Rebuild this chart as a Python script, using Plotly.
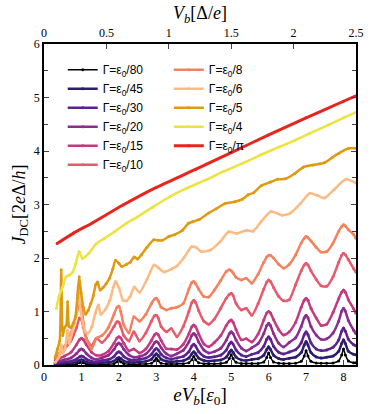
import plotly.graph_objects as go

# shared voltage grid (eV_b in units of eps0) for the narrow-resonance curves
X_RES = [0.3,
         0.55, 0.72, 0.87, 0.95, 1.0, 1.05, 1.13, 1.27, 1.4,
         1.55, 1.72, 1.87, 1.95, 2.0, 2.05, 2.13, 2.27, 2.4,
         2.55, 2.72, 2.87, 2.95, 3.0, 3.05, 3.13, 3.27, 3.4,
         3.55, 3.72, 3.87, 3.95, 4.0, 4.05, 4.13, 4.27, 4.4,
         4.55, 4.72, 4.87, 4.95, 5.0, 5.05, 5.13, 5.27, 5.4,
         5.55, 5.72, 5.87, 5.95, 6.0, 6.05, 6.13, 6.27, 6.4,
         6.55, 6.72, 6.87, 6.95, 7.0, 7.05, 7.13, 7.27, 7.4,
         7.55, 7.72, 7.87, 7.95, 8.0, 8.05, 8.13, 8.27, 8.33]

J80 = [0.01,
       .011, .012, .019, .04, .06, .04, .019, .013, .012,
       .014, .015, .026, .059, .092, .059, .026, .016, .015,
       .017, .019, .035, .08, .125, .08, .035, .02, .02,
       .021, .024, .043, .1, .158, .1, .043, .025, .024,
       .023, .027, .05, .12, .19, .12, .05, .03, .028,
       .026, .03, .058, .14, .222, .14, .058, .032, .03,
       .03, .035, .068, .167, .265, .167, .068, .037, .035,
       .033, .039, .077, .187, .298, .187, .077, .04, .04]

J45 = [0.02,
       .034, .038, .056, .086, .10, .086, .056, .038, .034,
       .045, .051, .077, .12, .14, .12, .077, .052, .046,
       .058, .068, .109, .178, .21, .178, .109, .069, .06,
       .07, .081, .13, .212, .25, .212, .13, .083, .071,
       .081, .093, .148, .238, .28, .238, .148, .095, .083,
       .103, .118, .183, .29, .34, .29, .183, .12, .105,
       .127, .146, .232, .374, .44, .374, .232, .15, .13,
       .147, .167, .256, .402, .47, .402, .256, .2, .19]

J30 = [0.03,
       .06, .072, .11, .154, .17, .154, .11, .073, .062,
       .084, .102, .16, .227, .25, .227, .16, .104, .088,
       .108, .13, .20, .281, .31, .281, .20, .132, .112,
       .132, .16, .25, .354, .39, .354, .25, .163, .138,
       .154, .184, .28, .391, .43, .391, .28, .187, .16,
       .199, .235, .35, .483, .53, .483, .35, .238, .206,
       .243, .284, .415, .567, .62, .567, .415, .30, .27,
       .28, .33, .465, .632, .69, .632, .48, .38, .36]

J20 = [0.05,
       .098, .132, .215, .282, .30, .282, .215, .134, .105,
       .137, .184, .295, .385, .41, .385, .295, .187, .147,
       .158, .206, .322, .414, .44, .414, .322, .21, .168,
       .212, .276, .431, .556, .59, .556, .431, .28, .225,
       .25, .313, .465, .586, .62, .586, .465, .318, .263,
       .322, .40, .588, .738, .78, .738, .588, .406, .338,
       .42, .51, .72, .882, .93, .882, .72, .56, .48,
       .49, .6, .82, 1.006, 1.06, 1.006, .83, .65, .59]

J15 = [0.08,
       .166, .236, .38, .476, .50, .476, .38, .24, .18,
       .188, .259, .407, .505, .53, .505, .407, .264, .30,
       .223, .30, .458, .564, .59, .564, .458, .304, .30,
       .291, .387, .585, .717, .75, .717, .585, .393, .34,
       .42, .55, .74, .82, .84, .80, .66, .47, .49,
       .43, .58, .84, .97, 1.0, .97, .85, .66, .56,
       .62, .80, 1.08, 1.21, 1.25, 1.21, 1.06, .88, .74,
       .76, .98, 1.24, 1.36, 1.40, 1.36, 1.22, 1.05, .97]

J10 = [0.12,
       .3, .45, .7, .88, .85, .7, .5, .35, .5,
       .42, .55, .72, .81, .8, .72, .55, .45, .62,
       .45, .6, .82, .92, .93, .88, .72, .62, .68,
       .53, .72, 1.0, 1.17, 1.21, 1.17, 1.02, .82, .76,
       .86, 1.06, 1.25, 1.32, 1.34, 1.3, 1.15, 1.03, 1.06,
       .93, 1.15, 1.42, 1.55, 1.59, 1.56, 1.45, 1.28, 1.2,
       1.22, 1.5, 1.76, 1.87, 1.9, 1.87, 1.76, 1.6, 1.48,
       1.47, 1.65, 1.92, 2.05, 2.09, 2.06, 1.97, 1.8, 1.74]

J8 = [0.15,
      .35, .6, .95, 1.15, 1.1, .8, .5, .3, .5,
      .55, .7, .95, 1.08, 1.1, 1.0, .75, .6, .9,
      .82, .95, 1.15, 1.23, 1.25, 1.2, 1.08, 1.03, 1.06,
      1.08, 1.15, 1.42, 1.54, 1.56, 1.52, 1.42, 1.28, 1.27,
      1.4, 1.58, 1.75, 1.78, 1.76, 1.72, 1.64, 1.59, 1.62,
      1.53, 1.7, 1.92, 2.02, 2.05, 2.05, 2.0, 1.88, 1.81,
      1.88, 2.06, 2.28, 2.37, 2.40, 2.38, 2.32, 2.2, 2.11,
      2.12, 2.28, 2.5, 2.59, 2.62, 2.6, 2.53, 2.44, 2.37]

X6 = [0.3, 0.4, 0.46, 0.5, 0.56, 0.63, 0.68, 0.75, 0.82, 0.87,
      0.91, 0.96, 1.02, 1.1, 1.18, 1.28, 1.37, 1.45, 1.52, 1.63,
      1.76, 1.85, 1.91, 2.0, 2.11, 2.2, 2.3, 2.41, 2.55, 2.75,
      2.94, 3.05, 3.2, 3.42, 3.55, 3.75, 3.94, 4.06, 4.2, 4.45,
      4.7, 4.93, 5.15, 5.41, 5.58, 5.8, 6.06, 6.36, 6.58, 6.85,
      7.1, 7.3, 7.49, 7.75, 8.06, 8.33]
J6 = [0.05, 0.15, 0.38, 0.22, 0.3, 0.65, 0.4, 0.62, 0.8, 0.95,
      1.46, 1.15, 0.84, 0.62, 0.6, 0.72, 0.97, 1.12, 0.95, 1.03,
      1.21, 1.45, 1.56, 1.45, 1.21, 1.2, 1.28, 1.46, 1.36, 1.6,
      1.87, 1.82, 1.74, 1.80, 1.85, 2.02, 2.21, 2.2, 2.12, 2.15,
      2.3, 2.49, 2.46, 2.52, 2.5, 2.68, 2.87, 2.80, 2.84, 3.02,
      3.21, 3.17, 3.12, 3.28, 3.47, 3.40]

X5 = [0.3, 0.36, 0.42, 0.46, 0.5, 0.55, 0.6, 0.63, 0.67, 0.72,
      0.78, 0.84, 0.89, 0.94, 0.99, 1.05, 1.11, 1.18, 1.25, 1.32,
      1.38, 1.43, 1.5, 1.58, 1.66, 1.75, 1.84, 1.91, 2.0, 2.08,
      2.2, 2.3, 2.41, 2.5, 2.6, 2.75, 2.93, 3.05, 3.16, 3.33,
      3.5, 3.7, 3.86, 3.98, 4.15, 4.4, 4.6, 4.84, 5.1, 5.3,
      5.45, 5.6, 5.8, 6.05, 6.23, 6.45, 6.7, 6.93, 7.19, 7.49,
      7.7, 7.88, 8.14, 8.33]
J5 = [0.15, 0.3, 0.45, 1.78, 0.55, 0.7, 0.75, 1.18, 0.72, 0.7,
      0.78, 0.9, 1.25, 1.65, 1.35, 1.08, 0.95, 1.02, 1.15, 1.3,
      1.5, 1.55, 1.4, 1.45, 1.52, 1.62, 1.8, 1.96, 1.9, 1.84,
      1.88, 1.92, 2.02, 1.98, 2.06, 2.2, 2.34, 2.33, 2.33, 2.40,
      2.44, 2.52, 2.65, 2.68, 2.72, 2.84, 2.92, 3.02, 3.05, 3.1,
      3.18, 3.22, 3.35, 3.42, 3.47, 3.48, 3.58, 3.70, 3.74, 3.78,
      3.88, 3.96, 4.05, 4.05]

X4 = [0.33, 0.4, 0.5, 0.59, 0.68, 0.77, 0.85, 0.94, 1.03, 1.2,
      1.4, 1.62, 1.88, 2.2, 2.5, 2.9, 3.37, 3.8, 4.32, 4.8,
      5.3, 5.8, 6.3, 6.7, 7.1, 7.6, 8.0, 8.33]
J4 = [1.06, 1.28, 1.46, 1.65, 1.68, 1.74, 1.90, 2.12, 1.99, 2.09,
      2.27, 2.37, 2.49, 2.65, 2.77, 2.95, 3.15, 3.3, 3.46, 3.62,
      3.77, 3.93, 4.08, 4.2, 4.33, 4.49, 4.62, 4.72]

XPI = [0.35, 0.8, 1.3, 2.11, 3.0, 4.06, 5.0, 6.0, 7.0, 8.0, 8.33]
JPI = [2.27, 2.47, 2.66, 2.99, 3.32, 3.66, 3.97, 4.30, 4.62, 4.93, 5.03]

# top axis: V_b in units of Delta/e
V_TOP = [0, 0.5, 1.0, 1.5, 2.0, 2.5]

LABELS = ["80", "45", "30", "20", "15", "10", "8", "6", "5", "4", "π"]
COLORS = ["#000000", "#2c1d6e", "#5b2290", "#8c2e8d", "#c23b80", "#e55a6c",
          "#f5815e", "#fdbb84", "#e09a10", "#ece33e", "#e8251c"]

series = [(X_RES, J80), (X_RES, J45), (X_RES, J30), (X_RES, J20), (X_RES, J15),
          (X_RES, J10), (X_RES, J8), (X6, J6), (X5, J5), (X4, J4), (XPI, JPI)]

fig = go.Figure()
for i, (lab, col, (xs, ys)) in enumerate(zip(LABELS, COLORS, series)):
    fig.add_trace(go.Scatter(
        x=xs, y=ys, mode="lines+markers",
        name=f"Γ=ε<sub>0</sub>/{lab}",
        line=dict(color=col, width=1.5 if i == 0 else (3 if lab == "π" else 2.5),
                  shape="spline", smoothing=0.6),
        marker=dict(color=col, size=3),
        legend="legend" if i < 6 else "legend2",
    ))

# empty trace so the top axis gets drawn
fig.add_trace(go.Scatter(x=V_TOP, y=[None] * len(V_TOP), xaxis="x2", mode="lines",
                         showlegend=False, hoverinfo="skip"))

serif = "Liberation Serif"
fig.update_layout(
    width=374, height=414,
    margin=dict(l=44, r=10, t=44, b=49),
    plot_bgcolor="white", paper_bgcolor="white",
    font=dict(family=serif, size=12, color="black"),
    legend=dict(x=0.06, y=0.965, xanchor="left", yanchor="top", bgcolor="rgba(0,0,0,0)",
                font=dict(family="Liberation Sans", size=12), tracegroupgap=0),
    legend2=dict(x=0.40, y=0.965, xanchor="left", yanchor="top", bgcolor="rgba(0,0,0,0)",
                 font=dict(family="Liberation Sans", size=12), tracegroupgap=0),
    xaxis=dict(range=[0, 8.333], tickvals=list(range(9)), ticks="inside", ticklen=5,
               showline=True, linecolor="black", linewidth=1.5, mirror=True,
               showgrid=False, zeroline=False,
               title=dict(text="<i>eV</i><sub><i>b</i></sub>[<i>ε</i><sub>0</sub>]",
                          font=dict(family=serif, size=19), standoff=2)),
    xaxis2=dict(range=[0, 2.5], overlaying="x", side="top", anchor="y",
                tickvals=V_TOP, ticktext=[f"{v:g}" for v in V_TOP],
                ticks="inside", ticklen=5,
                showline=True, linecolor="black", linewidth=1.5,
                showgrid=False, zeroline=False,
                title=dict(text="<i>V</i><sub><i>b</i></sub>[Δ/<i>e</i>]",
                           font=dict(family=serif, size=18), standoff=2)),
    yaxis=dict(range=[0, 6], dtick=1, ticks="inside", ticklen=5,
               minor=dict(dtick=0.5, ticks="inside", ticklen=4, showgrid=False),
               showline=True, linecolor="black", linewidth=1.5, mirror="ticks",
               showgrid=False, zeroline=False,
               title=dict(text="<i>J</i><sub>DC</sub>[2<i>e</i>Δ/<i>h</i>]",
                          font=dict(family=serif, size=18), standoff=4)),
)

fig.write_html("out.html", config={"displayModeBar": False},
               post_script="document.body.style.margin='0px';")
